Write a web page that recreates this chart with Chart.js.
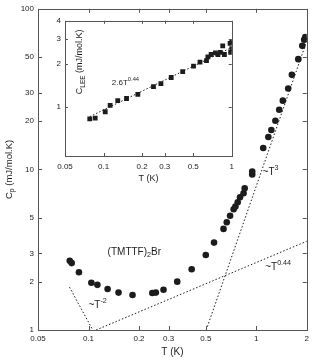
<!DOCTYPE html>
<html>
<head>
<meta charset="utf-8">
<script src="https://cdn.jsdelivr.net/npm/chart.js@4.4.0/dist/chart.umd.min.js"></script>
<style>
    html, body { margin: 0; padding: 0; background: #fff; }
    #wrap { position: relative; width: 313px; height: 361px; }
    #main { position: absolute; left: 0; top: 0; }
    #inset { position: absolute; left: 40px; top: 12px; }
</style>
</head>
<body>
<div id="wrap">
    <canvas id="main" width="313" height="361"></canvas>
    <canvas id="inset" width="200" height="175"></canvas>
</div>
<script>
const FONT = '"Liberation Sans", Arial, sans-serif'
const INK = '#1c1c1c'
const FRAME = '#555'

// main panel, Cp against T (log-log)
const MAIN_T = [0.0773, 0.0794, 0.0877, 0.104, 0.113, 0.130, 0.151, 0.183, 0.240, 0.252, 0.280, 0.338,
    0.412, 0.50, 0.56, 0.638, 0.667, 0.698, 0.733, 0.751, 0.775, 0.80, 0.84, 0.853, 0.946, 0.946,
    1.10, 1.18, 1.23, 1.30, 1.37, 1.44, 1.55, 1.63, 1.78, 1.88, 1.93, 1.96]
const MAIN_C = [2.70, 2.61, 2.29, 1.97, 1.91, 1.80, 1.71, 1.65, 1.70, 1.71, 1.78, 2.00,
    2.39, 2.93, 3.50, 4.26, 4.69, 5.15, 5.65, 5.87, 6.25, 6.71, 7.11, 7.64, 9.3, 9.7,
    13.6, 15.9, 17.6, 20.1, 23.5, 26.8, 31.9, 38.8, 48.6, 58.8, 64.1, 66.6]
const MAIN_X_TICKS = [0.05, 0.1, 0.2, 0.3, 0.5, 1, 2]
const MAIN_Y_TICKS = [1, 2, 3, 5, 10, 20, 30, 50, 100]

// guide lines, end points only
const T3_T = [0.503, 2]
const T3_C = [1, 63]
const T044_T = [0.111, 2]
const T044_C = [1, 3.57]
const TM2_T = [0.077, 0.106]
const TM2_C = [1.85, 1]

// inset, C_LEE against T
const INSET_T = [0.078, 0.086, 0.103, 0.1125, 0.129, 0.151, 0.185, 0.245, 0.28, 0.337, 0.414, 0.503,
    0.565, 0.635, 0.651, 0.69, 0.745, 0.78, 0.814, 0.85, 0.876, 0.97, 0.98, 1.0, 1.0]
const INSET_C = [0.82, 0.83, 0.92, 1.02, 1.10, 1.14, 1.22, 1.38, 1.45, 1.60, 1.76, 1.92,
    2.05, 2.10, 2.23, 2.32, 2.38, 2.32, 2.40, 2.67, 2.32, 2.78, 2.40, 2.55, 2.85]
const INSET_X_TICKS = [0.05, 0.1, 0.2, 0.3, 0.5, 1]
const INSET_Y_TICKS = [1, 2, 3, 4]
const FIT_T = [0.078, 1]
const FIT_C = [0.85, 2.6]

const MAIN_NOTES = [
    { t: 0.13, c: 3.06, parts: [['(TMTTF)'], ['2', 'sub'], ['Br']] },
    { t: 1.09, c: 9.66, parts: [['~T'], ['3', 'sup']] },
    { t: 1.13, c: 2.47, parts: [['~T'], ['0.44', 'sup']] },
    { t: 0.1, c: 1.43, parts: [['~T'], ['-2', 'sup']] }
]
const INSET_NOTES = [
    { t: 0.116, c: 1.46, parts: [['2.6T'], ['0.44', 'sup']] }
]
const MAIN_Y_TITLE = [['C'], ['p', 'sub'], [' (mJ/mol.K)']]
const INSET_Y_TITLE = [['C'], ['LEE', 'sub'], [' (mJ/mol.K)']]


function pairs(xs, ys) {
    return xs.map((x, i) => ({ x: x, y: ys[i] }))
}

function setTicks(list) {
    return function (scale) {
        scale.ticks = list.map(v => ({ value: v }))
    }
}

function richWidth(ctx, parts, size) {
    let w = 0
    parts.forEach(([txt, kind]) => {
        ctx.font = (kind ? size * 0.72 : size) + 'px ' + FONT
        w += ctx.measureText(txt).width
    })
    return w
}

function drawRich(ctx, parts, x, y, size) {
    let cx = x
    parts.forEach(([txt, kind]) => {
        ctx.font = (kind ? size * 0.72 : size) + 'px ' + FONT
        let dy = 0
        if (kind === 'sup') dy = -size * 0.42
        if (kind === 'sub') dy = size * 0.32
        ctx.fillText(txt, cx, y + dy)
        cx += ctx.measureText(txt).width
    })
}

function guide(xs, ys) {
    return {
        data: pairs(xs, ys),
        showLine: true,
        pointRadius: 0,
        borderColor: INK,
        borderWidth: 1,
        borderDash: [1.5, 2]
    }
}

// box around the plot with inward ticks
const framePlugin = {
    id: 'frame',
    afterDatasetsDraw(chart, args, opts) {
        const { ctx, chartArea: a, scales } = chart
        const len = opts.tick
        ctx.save()
        ctx.strokeStyle = FRAME
        ctx.lineWidth = 1
        ctx.strokeRect(Math.round(a.left) + 0.5, Math.round(a.top) + 0.5,
            Math.round(a.right - a.left), Math.round(a.bottom - a.top))
        ctx.beginPath()
        scales.x.ticks.forEach(t => {
            const px = Math.round(scales.x.getPixelForValue(t.value)) + 0.5
            ctx.moveTo(px, a.bottom)
            ctx.lineTo(px, a.bottom - len)
            ctx.moveTo(px, a.top)
            ctx.lineTo(px, a.top + len)
        })
        scales.y.ticks.forEach(t => {
            const py = Math.round(scales.y.getPixelForValue(t.value)) + 0.5
            ctx.moveTo(a.left, py)
            ctx.lineTo(a.left + len, py)
            ctx.moveTo(a.right, py)
            ctx.lineTo(a.right - len, py)
        })
        ctx.stroke()
        ctx.restore()
    }
}

// free text: notes in data units plus the rotated y title
const notesPlugin = {
    id: 'notes',
    afterDraw(chart, args, opts) {
        const { ctx, chartArea: a, scales } = chart
        ctx.save()
        ctx.fillStyle = INK
        ctx.textBaseline = 'middle'
        ctx.textAlign = 'left'
        opts.items.forEach(n => {
            drawRich(ctx, n.parts, scales.x.getPixelForValue(n.t), scales.y.getPixelForValue(n.c), opts.size)
        })
        const w = richWidth(ctx, opts.title, opts.titleSize)
        ctx.translate(opts.titleX(a), opts.titleY(a))
        ctx.rotate(-Math.PI / 2)
        drawRich(ctx, opts.title, -w / 2, 0, opts.titleSize)
        ctx.restore()
    }
}

function axis(min, max, ticks, size, pad, fit, title, titleSize) {
    return {
        type: 'logarithmic',
        min: min,
        max: max,
        bounds: 'data',
        afterBuildTicks: setTicks(ticks),
        afterFit: fit,
        grid: { display: true, drawOnChartArea: false, drawTicks: false },
        border: { display: false },
        ticks: {
            autoSkip: false,
            maxRotation: 0,
            padding: pad,
            color: INK,
            font: { family: FONT, size: size },
            callback: v => String(v)
        },
        title: {
            display: !!title,
            text: title || '',
            color: INK,
            font: { family: FONT, size: titleSize },
            padding: { top: 0, bottom: 3 }
        }
    }
}

new Chart(document.getElementById('main'), {
    type: 'scatter',
    data: {
        datasets: [
            {
                data: pairs(MAIN_T, MAIN_C),
                pointRadius: 3.3,
                pointBackgroundColor: INK,
                pointBorderWidth: 0
            },
            guide(T3_T, T3_C),
            guide(T044_T, T044_C),
            guide(TM2_T, TM2_C)
        ]
    },
    options: {
        responsive: false,
        animation: false,
        layout: { padding: { top: 7, right: 5, left: 0, bottom: 0 } },
        plugins: {
            legend: { display: false },
            tooltip: { enabled: false },
            frame: { tick: 4 },
            notes: {
                items: MAIN_NOTES,
                size: 10,
                title: MAIN_Y_TITLE,
                titleSize: 9.5,
                titleX: a => 9,
                titleY: a => (a.top + a.bottom) / 2
            }
        },
        scales: {
            x: axis(0.05, 2, MAIN_X_TICKS, 8, 4, s => { s.height = 31 }, 'T (K)', 10),
            y: axis(1, 100, MAIN_Y_TICKS, 8, 4, s => { s.width = 38 })
        }
    },
    plugins: [framePlugin, notesPlugin]
})

new Chart(document.getElementById('inset'), {
    type: 'scatter',
    data: {
        datasets: [
            {
                data: pairs(INSET_T, INSET_C),
                pointStyle: 'rect',
                pointRadius: 3.4,
                pointBackgroundColor: INK,
                pointBorderWidth: 0
            },
            guide(FIT_T, FIT_C)
        ]
    },
    options: {
        responsive: false,
        animation: false,
        layout: { padding: { top: 5, right: 5, left: 0, bottom: 0 } },
        plugins: {
            legend: { display: false },
            tooltip: { enabled: false },
            frame: { tick: 3 },
            notes: {
                items: INSET_NOTES,
                size: 8,
                title: INSET_Y_TITLE,
                titleSize: 9,
                titleX: a => a.left + 15,
                titleY: a => a.top + 41
            }
        },
        scales: {
            x: axis(0.05, 1, INSET_X_TICKS, 8, 6, s => { s.height = 31 }, 'T (K)', 9),
            y: axis(0.45, 4, INSET_Y_TICKS, 8, 4, s => { s.width = 25 })
        }
    },
    plugins: [framePlugin, notesPlugin]
})
</script>
</body>
</html>
